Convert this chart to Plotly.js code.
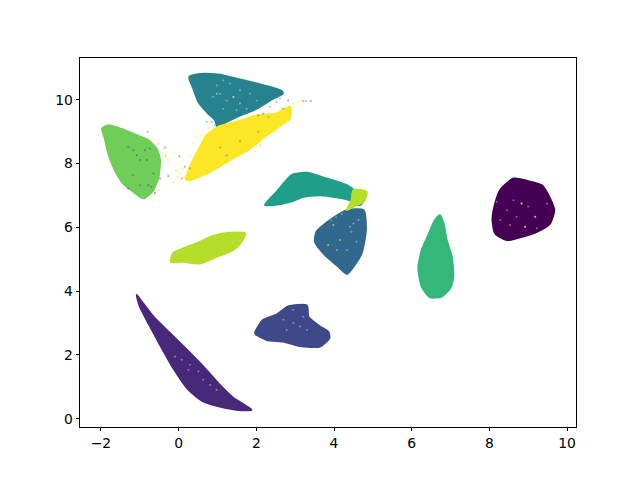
<!DOCTYPE html>
<html>
<head>
<meta charset="utf-8">
<script src="https://cdn.plot.ly/plotly-3.0.1.min.js"></script>
<style>html,body{margin:0;padding:0;background:#fff}</style>
</head>
<body>
<div id="tester" style="width:640px;height:480px"></div>
<script>
// cluster outlines
var c0x = [8.62,8.96,9.35,9.56,9.67,9.56,9.22,8.79,8.45,8.15,8.08,8.15,8.28];
var c0y = [7.53,7.46,7.32,6.91,6.54,6.12,5.86,5.69,5.60,5.81,6.23,6.75,7.17];
var c1x = [-1.08,-0.95,-0.65,-0.22,0.21,0.63,1.06,1.41,1.88,1.49,1.06,0.63,0.25,-0.14,-0.48,-0.78,-1.00];
var c1y = [3.88,3.67,3.20,2.68,2.16,1.64,1.06,0.65,0.28,0.28,0.38,0.54,0.91,1.59,2.32,3.00,3.52];
var c2x = [1.97,2.18,2.52,2.82,3.30,3.34,3.64,3.85,3.88,3.64,3.12,2.69,2.27];
var c2y = [2.68,3.10,3.26,3.52,3.55,3.20,2.89,2.73,2.53,2.26,2.28,2.42,2.47];
var c3x = [3.55,3.90,4.33,4.76,4.82,4.71,4.50,4.33,4.11,3.77,3.51];
var c3y = [5.86,6.23,6.54,6.54,5.92,5.19,4.77,4.54,4.77,5.13,5.55];
var c4x = [0.27,0.55,1.02,1.49,2.01,2.65,2.68,2.44,2.01,1.49,1.15,1.02,0.94,0.72,0.51,0.38];
var c4y = [10.71,10.81,10.79,10.66,10.51,10.28,10.19,10.04,9.72,9.46,9.25,9.10,9.36,9.62,9.93,10.35];
var c5x = [2.22,2.52,2.91,3.30,3.81,4.33,4.58,4.80,4.67,4.41,4.07,3.64,3.21,2.87,2.44];
var c5y = [6.70,7.11,7.64,7.71,7.53,7.32,7.11,6.91,6.70,6.85,6.94,7.01,6.96,6.80,6.70];
var c6x = [6.73,6.82,6.90,7.03,7.07,6.99,6.77,6.47,6.26,6.17,6.26,6.43,6.60];
var c6y = [6.38,6.12,5.60,5.08,4.45,4.09,3.83,3.81,4.14,4.72,5.29,5.76,6.23];
var c7x = [-1.97,-1.81,-1.51,-1.08,-0.78,-0.57,-0.48,-0.52,-0.65,-0.91,-1.17,-1.43,-1.64,-1.81,-1.90];
var c7y = [9.10,9.20,9.10,8.89,8.73,8.47,8.11,7.58,7.17,6.91,7.12,7.38,7.79,8.31,8.78];
var c8x = [-0.20,-0.14,0.12,0.46,0.89,1.32,1.71,1.62,1.41,0.98,0.55,0.12];
var c8y = [4.92,5.19,5.34,5.50,5.73,5.83,5.81,5.55,5.29,5.08,4.87,4.92];
var c8bx = [4.50,4.84,4.76,4.58,4.33,4.45];
var c8by = [7.17,7.11,6.80,6.70,6.54,6.85];
var c9x = [0.19,0.29,0.55,0.72,1.02,1.49,2.01,2.52,2.87,2.87,2.69,2.27,1.84,1.32,0.81,0.29];
var c9y = [7.50,7.90,8.52,8.89,9.15,9.31,9.51,9.57,9.78,9.41,9.25,8.89,8.47,8.11,7.74,7.48];

// loose points around and inside the clusters
var yellowX = [-0.35,-0.27,-0.38,-0.07,0.03,-0.03,-0.14,0.38,0.46,0.29,0.59,0.76,1.75,2.35,2.65,2.95,3.08,3.17,2.82,2.14,1.97,2.10,2.48,-0.52,-0.33,-0.52,0.14,0.08,3.98,3.85,4.15,8.83,9.18,8.92,0.98,1.41];
var yellowY = [8.21,8.11,8.47,7.79,7.69,7.58,7.43,8.63,8.81,8.21,8.89,9.10,9.36,9.51,9.72,9.88,9.93,9.96,9.69,9.41,8.37,8.58,9.00,8.63,8.26,7.17,7.58,7.85,6.07,5.45,5.60,6.75,6.33,6.02,10.19,10.09];
var tealX = [0.72,0.85,2.18,2.52,2.61,2.35,2.05,2.31,2.70,0.94,0.29,0.16,0.08,-0.35,1.07,1.58,1.24,2.05];
var tealY = [9.31,9.31,9.57,9.93,10.04,9.78,9.51,9.46,9.72,9.20,7.85,7.90,7.53,8.50,8.50,8.70,8.25,9.00];
var darkX = [-1.30,-1.17,-0.87,-0.74,-0.99,-0.82,-0.65,-0.78,-0.99,-0.70,-1.17,-1.30,-1.08,0.76,0.02,-0.27,-0.48,-0.61,2.82,3.40];
var darkY = [8.52,8.42,8.42,8.47,8.11,8.11,7.69,7.32,7.32,7.27,7.64,7.22,8.26,9.57,8.23,7.61,7.53,7.08,9.98,9.96];
var limeX = [3.21,3.28,-0.80,4.20,4.05,3.93];
var limeY = [9.96,9.96,9.00,6.42,6.32,6.22];
var whiteX = [1.15,1.32,1.58,1.07,1.24,1.41,1.84,0.89,1.15,1.58,2.01,1.75,1.49,0.98,8.62,8.83,8.45,8.70,9.0,9.18,8.28,8.53,8.92,9.22,8.19,9.48,4.41,4.50,4.63,4.33,4.07,4.58,4.45,-0.09,0.08,0.29,0.51,0.63,0.81,0.98,0.25,2.70,2.95,3.21,3.12,2.78,3.30,2.95];
var whiteY = [10.61,10.51,10.30,10.19,9.98,10.09,10.19,10.09,9.72,9.88,9.98,9.72,9.67,10.45,6.85,6.75,6.54,6.33,6.65,6.33,6.23,6.07,6.02,5.97,6.80,6.75,6.02,6.12,6.23,5.29,5.29,5.55,5.86,1.95,1.85,1.69,1.48,1.22,1.06,0.91,1.53,3.10,3.0,3.2,2.89,2.78,2.79,3.41];

var xTicks = [-2,0,2,4,6,8,10];
var yTicks = [0,2,4,6,8,10];

function blob(x, y, color) {
  return {x: x.concat(x[0]), y: y.concat(y[0]), mode: 'lines', type: 'scatter', fill: 'toself', fillcolor: color,
    line: {color: color, width: 2, shape: 'spline', smoothing: 0.6}, hoverinfo: 'skip'};
}
function specks(x, y, color, alpha) {
  return {x: x, y: y, mode: 'markers', type: 'scatter', hoverinfo: 'skip',
    marker: {size: 2, color: color, opacity: alpha, line: {width: 0}}};
}

var data = [
  blob(c0x, c0y, '#440154'),
  blob(c1x, c1y, '#482878'),
  blob(c2x, c2y, '#3e4989'),
  blob(c3x, c3y, '#31688e'),
  blob(c4x, c4y, '#26828e'),
  blob(c5x, c5y, '#1f9e89'),
  blob(c6x, c6y, '#35b779'),
  blob(c7x, c7y, '#6ece58'),
  blob(c8x, c8y, '#b5de2b'),
  blob(c8bx, c8by, '#b5de2b'),
  blob(c9x, c9y, '#fde725'),
  specks(whiteX, whiteY, '#ffffff', 0.4),
  specks(yellowX, yellowY, '#fde725', 0.7),
  specks(tealX, tealY, '#26828e', 0.5),
  specks(darkX, darkY, '#3e4989', 0.55),
  specks(limeX, limeY, '#6ece58', 0.8)
];

var axisFont = {family: 'DejaVu Sans', size: 13.9, color: '#000'};
var layout = {
  width: 640, height: 480,
  margin: {l: 80, r: 64, t: 57.6, b: 52.8, pad: 0},
  paper_bgcolor: '#fff', plot_bgcolor: '#fff',
  showlegend: false,
  xaxis: {
    range: [-2.54, 10.23], showgrid: false, zeroline: false,
    tickmode: 'array', tickvals: xTicks, ticks: 'outside', ticklen: 3.5, tickwidth: 0.8, tickcolor: '#000',
    showline: true, mirror: true, linecolor: '#000', linewidth: 0.8, tickfont: axisFont
  },
  yaxis: {
    range: [-0.26, 11.31], showgrid: false, zeroline: false,
    tickmode: 'array', tickvals: yTicks, ticks: 'outside', ticklen: 3.5, tickwidth: 0.8, tickcolor: '#000',
    showline: true, mirror: true, linecolor: '#000', linewidth: 0.8, tickfont: axisFont
  }
};

TESTER = document.getElementById('tester');
Plotly.newPlot(TESTER, data, layout, {displayModeBar: false});
</script>
</body>
</html>
